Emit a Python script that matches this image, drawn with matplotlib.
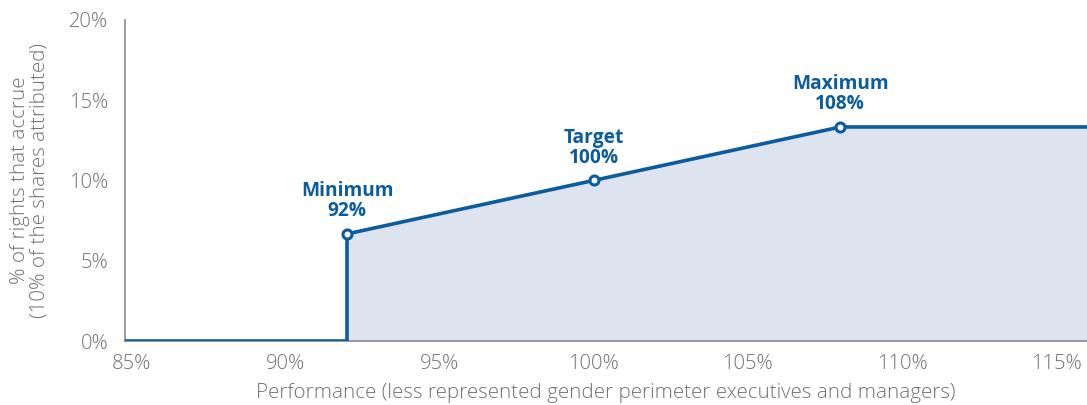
import matplotlib
matplotlib.use("Agg")
import matplotlib.pyplot as plt
from matplotlib.ticker import FuncFormatter

plt.rcParams['font.family'] = ['Open Sans', 'DejaVu Sans']

# Data
perf = [84.8, 92, 92, 100, 108, 116]
rights = [0, 0, 6.67, 10.0, 13.33, 13.33]
fill_x = [92, 100, 108, 116]
fill_y = [6.67, 10.0, 13.33, 13.33]
key_x = [92, 100, 108]
key_y = [6.67, 10.0, 13.33]
key_labels = ["Minimum\n92%", "Target\n100%", "Maximum\n108%"]
x_ticks = [85, 90, 95, 100, 105, 110, 115]
y_ticks = [0, 5, 10, 15, 20]

blue = "#0b5c9e"
fill = "#dde3ef"
grey = "#707070"

fig = plt.figure(figsize=(10.87, 4.05), dpi=100)
ax = fig.add_axes([0.115, 0.158, 0.885, 0.793])

ax.fill_between(fill_x, 0, fill_y, color=fill, lw=0, zorder=1)
ax.plot(perf, rights, color=blue, lw=2.6, zorder=3, solid_joinstyle='miter')
ax.plot(key_x, key_y, 'o', ms=6.5, mfc='white', mec=blue, mew=2.2, zorder=4)
for x, y, t in zip(key_x, key_y, key_labels):
    ax.annotate(t, (x, y), xytext=(0, 9), textcoords='offset points',
                ha='center', va='bottom', color=blue, fontsize=13.8,
                fontweight='bold', linespacing=1.0)

ax.set_xlim(84.8, 116)
ax.set_ylim(0, 20)
ax.set_xticks(x_ticks)
ax.set_yticks(y_ticks)
ax.xaxis.set_major_formatter(FuncFormatter(lambda v, p: f"{v:.0f}%"))
ax.yaxis.set_major_formatter(FuncFormatter(lambda v, p: f"{v:.0f}%"))
ax.tick_params(axis='x', length=0, labelsize=14.5, colors=grey, pad=9)
ax.tick_params(axis='y', length=0, labelsize=14.5, colors=grey, pad=12)
for lab in ax.get_xticklabels() + ax.get_yticklabels():
    lab.set_fontweight(300)
for s in ['top', 'right']:
    ax.spines[s].set_visible(False)
for s in ['left', 'bottom']:
    ax.spines[s].set_color('#8a8a8a')
    ax.spines[s].set_linewidth(1.2)

ax.set_xlabel("Performance (less represented gender perimeter executives and managers)",
              fontsize=14.8, color=grey, labelpad=7, fontweight=300)
ax.set_ylabel("% of rights that accrue\n(10% of the shares attributed)",
              fontsize=14.8, color=grey, labelpad=14, linespacing=0.95, fontweight=300)

fig.savefig("out.png", dpi=100)
